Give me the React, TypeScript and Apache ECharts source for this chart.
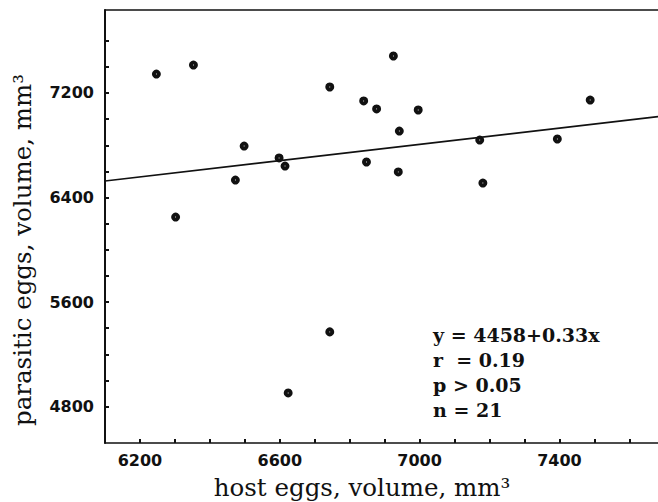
import React, { useEffect, useRef } from "react";
import * as echarts from "echarts";

// host egg volume (x) vs parasitic egg volume (y)
const hostEggs = [6247, 6353, 6498, 6473, 6598, 6615, 6302, 6743, 6925, 6840, 6877, 6996, 6942, 7172, 7394, 7488, 6848, 6939, 7181, 6624, 6743];
const parasiticEggs = [7345, 7414, 6794, 6534, 6703, 6641, 6251, 7246, 7483, 7139, 7078, 7070, 6909, 6840, 6848, 7146, 6672, 6596, 6511, 4905, 5372];

// regression line endpoints as drawn
const lineX = [6100, 7682];
const lineY = [6527, 7019];

const xTickValues = [6200, 6300, 6400, 6500, 6600, 6700, 6800, 6900, 7000, 7100, 7200, 7300, 7400, 7500, 7600];
const xLabelValues = [6200, 6600, 7000, 7400];
const yTickValues = [4800, 5000, 5200, 5400, 5600, 5800, 6000, 6200, 6400, 6600, 6800, 7000, 7200, 7400, 7600];
const yLabelValues = [4800, 5600, 6400, 7200];

const statLines = ["y = 4458+0.33x", "r  = 0.19", "p > 0.05", "n = 21"];

export default function App() {
  const ref = useRef<HTMLDivElement>(null);
  useEffect(() => {
    if (!ref.current) return;
    const chart = echarts.init(ref.current, null, { renderer: "svg" });
    const labelFont = {
      fontFamily: "DejaVu Sans",
      fontWeight: 700,
      fontSize: 16,
      color: "#111",
      formatter: (v: number) => String(v),
    };
    chart.setOption({
      animation: false,
      backgroundColor: "#fff",
      grid: { left: 105, top: 10, right: 0, bottom: 59, outerBoundsMode: "none", containLabel: false },
      xAxis: [
        {
          type: "value",
          min: 6100,
          max: 7682,
          splitLine: { show: false },
          axisLine: { show: true, lineStyle: { color: "#111", width: 1.5 } },
          axisTick: { show: true, inside: true, length: 4, lineStyle: { color: "#111", width: 2 }, customValues: xTickValues },
          axisLabel: { ...labelFont, margin: 9, customValues: xLabelValues },
        },
        {
          type: "value",
          position: "top",
          min: 6100,
          max: 7682,
          splitLine: { show: false },
          axisLine: { show: true, lineStyle: { color: "#111", width: 1.5 } },
          axisTick: { show: false },
          axisLabel: { show: false },
        },
      ],
      yAxis: {
        type: "value",
        min: 4522,
        max: 7835,
        splitLine: { show: false },
        axisLine: { show: true, lineStyle: { color: "#111", width: 2 } },
        axisTick: { show: true, inside: true, length: 4, lineStyle: { color: "#111", width: 2 }, customValues: yTickValues },
        axisLabel: { ...labelFont, margin: 11, customValues: yLabelValues },
      },
      series: [
        {
          type: "line",
          data: lineX.map((x, i) => [x, lineY[i]]),
          symbol: "none",
          lineStyle: { color: "#111", width: 1.6 },
          silent: true,
        },
        {
          type: "scatter",
          data: hostEggs.map((x, i) => [x, parasiticEggs[i]]),
          symbol: "circle",
          symbolSize: 5,
          itemStyle: { color: "#fff", borderColor: "#111", borderWidth: 4, opacity: 1 },
        },
      ],
      graphic: [
        {
          type: "text",
          x: 22,
          y: 250,
          rotation: Math.PI / 2,
          style: {
            text: "parasitic eggs, volume, mm³",
            font: "24.5px 'DejaVu Serif'",
            fill: "#111",
            align: "center",
            verticalAlign: "middle",
          },
        },
        {
          type: "text",
          x: 362,
          y: 487,
          style: {
            text: "host eggs, volume, mm³",
            font: "24.5px 'DejaVu Serif'",
            fill: "#111",
            align: "center",
            verticalAlign: "middle",
          },
        },
        {
          type: "text",
          x: 433,
          y: 322,
          style: {
            text: statLines.join("\n"),
            font: "bold 19px 'DejaVu Serif'",
            lineHeight: 25,
            fill: "#111",
            align: "left",
            verticalAlign: "top",
          },
        },
      ],
    });
    return () => chart.dispose();
  }, []);
  return <div ref={ref} style={{ width: 658, height: 502, position: "absolute", left: 0, top: 0 }} />;
}
